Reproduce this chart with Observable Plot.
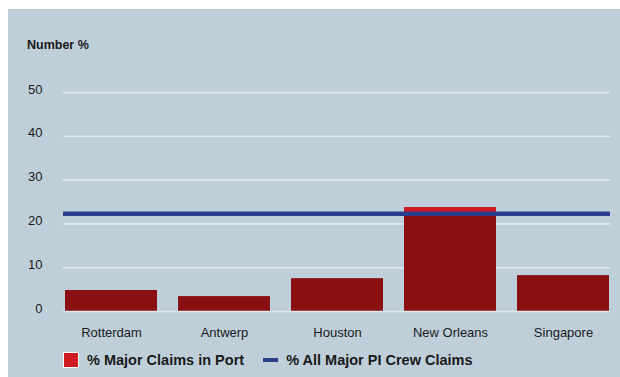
<!DOCTYPE html>
<html>
<head>
<meta charset="utf-8">
<script src="https://cdn.jsdelivr.net/npm/d3@7"></script>
<script src="https://cdn.jsdelivr.net/npm/@observablehq/plot@0.6"></script>
<style>
  html, body { margin: 0; padding: 0; background: #ffffff; }
  body { width: 620px; height: 377px; position: relative; overflow: hidden; font-family: "Liberation Sans", Arial, sans-serif; }
  #panel { position: absolute; left: 8px; top: 9px; width: 612px; height: 368px; background: #bfcfd9; }
  #title { position: absolute; left: 19px; top: 29px; font-size: 12.5px; font-weight: bold; color: #1a1a1a; }
  #chart { position: absolute; left: 0; top: 40px; }
  #legend { position: absolute; left: 55px; top: 343px; display: flex; align-items: center; font-size: 14.5px; font-weight: bold; color: #1a1a1a; }
  .sw { display: inline-block; }
</style>
</head>
<body>
<div id="panel">
  <div id="title">Number %</div>
  <div id="chart"></div>
  <div id="legend"></div>
</div>
<script>
const ports = ["Rotterdam", "Antwerp", "Houston", "New Orleans", "Singapore"];
const portClaims = [4.8, 3.4, 7.5, 23.7, 8.2];
const allCrewClaims = 22.3;
const yTicks = [0, 10, 20, 30, 40, 50];
const seriesNames = ["% Major Claims in Port", "% All Major PI Crew Claims"];

const barColor = "#8a0f12";
const barTopColor = "#d11b24";
const lineColor = "#2a3f8e";
const gridColor = "#e2e9ee";

const data = ports.map((p, i) => ({port: p, value: portClaims[i]}));
const above = data.filter(d => d.value > allCrewClaims);

const chart = Plot.plot({
  width: 612,
  height: 300,
  marginLeft: 55,
  marginRight: 10,
  marginTop: 43,
  marginBottom: 38,
  style: {background: "transparent", fontFamily: "'Liberation Sans', Arial, sans-serif", fontSize: "13px", color: "#1a1a1a"},
  x: {domain: ports, paddingInner: 0.19, paddingOuter: 0, label: null, tickSize: 0, tickPadding: 16},
  y: {domain: [0, 50], ticks: yTicks, label: null, tickSize: 0, tickPadding: 21},
  marks: [
    Plot.ruleY(yTicks.filter(t => t > 0), {stroke: gridColor, strokeWidth: 1.6}),
    Plot.barY(data, {x: "port", y: "value", fill: barColor}),
    Plot.barY(above, {x: "port", y1: allCrewClaims, y2: "value", fill: barTopColor}),
    Plot.ruleY([0], {stroke: gridColor, strokeWidth: 1.6}),
    Plot.ruleY([allCrewClaims], {stroke: lineColor, strokeWidth: 4.5}),
    Plot.axisY({ticks: yTicks, tickSize: 0, tickPadding: 21, dy: -3, label: null}),
    Plot.axisX({tickSize: 0, tickPadding: 16, label: null})
  ]
});
document.getElementById("chart").appendChild(chart);

const legend = document.getElementById("legend");
legend.innerHTML =
  `<span class="sw" style="width:16px;height:16px;background:${barTopColor};border:1px solid #fff;box-sizing:border-box;margin-right:8px"></span>` +
  `<span>${seriesNames[0]}</span>` +
  `<span class="sw" style="width:15px;height:4px;background:${lineColor};margin-left:19px;margin-right:8px"></span>` +
  `<span>${seriesNames[1]}</span>`;
</script>
</body>
</html>
